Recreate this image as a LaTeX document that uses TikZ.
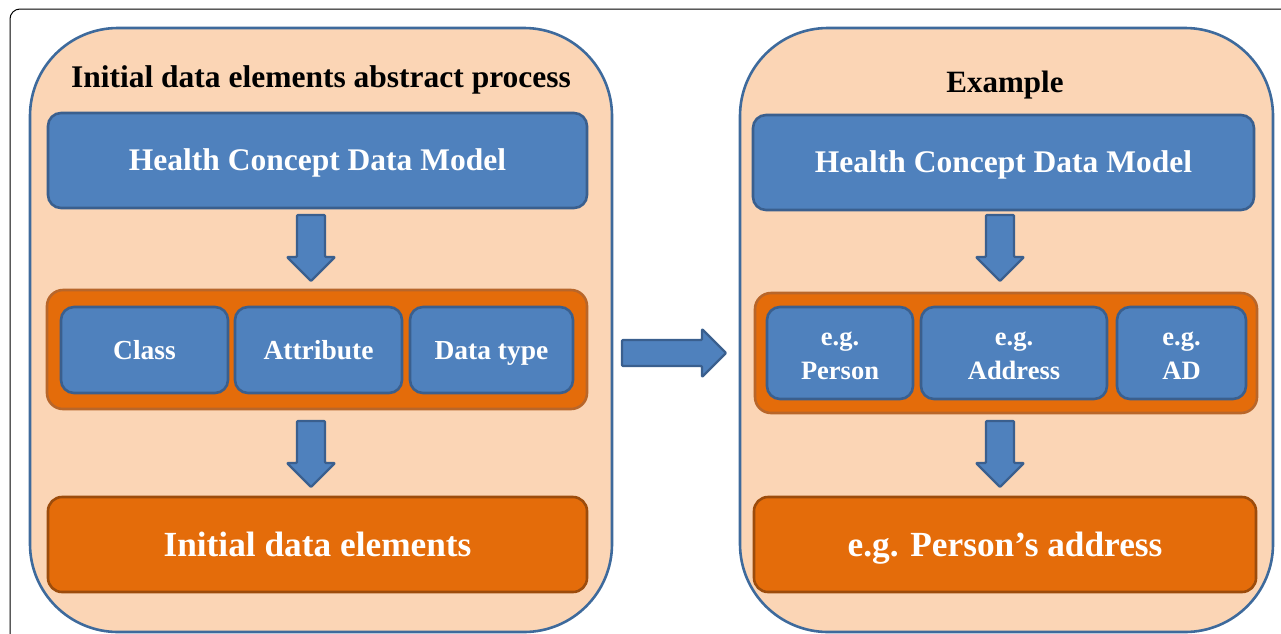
\documentclass[tikz,border=0pt]{standalone}
\usepackage{fontspec}
\setmainfont{Liberation Serif}
\definecolor{peach}{HTML}{FBD5B5}
\definecolor{panelblue}{HTML}{3E6A9C}
\definecolor{boxblue}{HTML}{4F81BD}
\definecolor{boxblueedge}{HTML}{3A5F8E}
\definecolor{orangefill}{HTML}{E46C0A}
\definecolor{contedge}{HTML}{B8662A}
\definecolor{orangeedge}{HTML}{9C4C0C}
\newcommand{\twolines}[2]{\begin{tabular}{@{}c@{}}\rule{0pt}{28.2pt}#1\\#2\end{tabular}}
\tikzset{
  panel/.style={fill=peach, draw=panelblue, line width=2.6pt, rounded corners=88pt},
  bluebox/.style={draw=boxblueedge, fill=boxblue, line width=2.6pt, rounded corners=13pt,
     text=white, font=\bfseries, align=center, inner sep=0pt},
  contbox/.style={draw=contedge, fill=orangefill, line width=2.6pt, rounded corners=16pt, inner sep=0pt},
  orangebox/.style={draw=orangeedge, fill=orangefill, line width=2.6pt, rounded corners=14pt,
     text=white, font=\bfseries, inner sep=0pt},
  titletext/.style={font=\bfseries, text=black, inner sep=0pt, anchor=base},
  big/.style={font=\fontsize{31.5}{36}\selectfont\bfseries, text height=20.8pt, text depth=0pt},
  mid/.style={font=\fontsize{27.5}{34}\selectfont\bfseries, text height=18.2pt, text depth=0pt},
  two/.style={font=\fontsize{26.5}{34}\selectfont\bfseries},
  huge/.style={font=\fontsize{35.3}{40}\selectfont\bfseries, text height=23.3pt, text depth=0pt},
  blockarrow/.style={fill=boxblue, draw=boxblueedge, line width=2.4pt, rounded corners=1pt, line join=round},
  pics/downarr/.style={code={
    \draw[blockarrow] (-14,0) -- (14,0) -- (14,42) -- (24,42) -- (0,66) -- (-24,42) -- (-14,42) -- cycle;}},
  pics/rightarr/.style={code={
    \draw[blockarrow] (0,-13) -- (80,-13) -- (80,-24) -- (104,0) -- (80,24) -- (80,13) -- (0,13) -- cycle;}}
}
\begin{document}
\begin{tikzpicture}[x=1pt,y=-1pt]
\useasboundingbox (0,0) rectangle (1281,633);
\begin{scope}
\clip (0,0) rectangle (1281,633);
% outer frame
\draw[black, line width=1pt, rounded corners=10pt] (10,9) rectangle (1300,660);
% panels
\draw[panel] (30,28) rectangle (612,632);
\draw[panel] (740,28) rectangle (1273,632);
\end{scope}

% ---------- left panel ----------
\node[titletext, font=\fontsize{31.5}{36}\selectfont\bfseries] (titleL) at (321,87.5) {Initial data elements abstract process};
\node[bluebox, big, minimum width=539, minimum height=95] (hcdmL) at (317.5,160.5) {Health Concept Data Model};
\pic at (311,215) {downarr};
\node[contbox, minimum width=540, minimum height=119] (contL) at (317,349.5) {};
\node[bluebox, mid, minimum width=167, minimum height=86] (classL) at (144.5,350) {Class};
\node[bluebox, mid, minimum width=167, minimum height=86] (attrL) at (318.5,350) {Attribute};
\node[bluebox, mid, minimum width=163, minimum height=86] (typeL) at (491.5,350) {Data type};
\pic at (311,421) {downarr};
\node[orangebox, huge, minimum width=539, minimum height=95] (ideL) at (317.5,544.5) {Initial data elements};

% ---------- middle arrow ----------
\pic at (622,353) {rightarr};

% ---------- right panel ----------
\node[titletext, font=\fontsize{31}{36}\selectfont\bfseries] (titleR) at (1005,92.5) {Example};
\node[bluebox, big, minimum width=501, minimum height=95] (hcdmR) at (1003.5,162.5) {Health Concept Data Model};
\pic at (1000,215) {downarr};
\node[contbox, minimum width=502, minimum height=120] (contR) at (1006,353) {};
\node[bluebox, two, minimum width=146, minimum height=92] (personR) at (840,353) {\twolines{e.g.}{Person}};
\node[bluebox, two, minimum width=186, minimum height=92] (addrR) at (1014,353) {\twolines{e.g.}{Address}};
\node[bluebox, two, minimum width=129, minimum height=92] (adR) at (1181.5,353) {\twolines{e.g.}{AD}};
\pic at (1000,421) {downarr};
\node[orangebox, huge, minimum width=502, minimum height=95] (paR) at (1005,544.5) {e.g. Person’s address};
\end{tikzpicture}
\end{document}
